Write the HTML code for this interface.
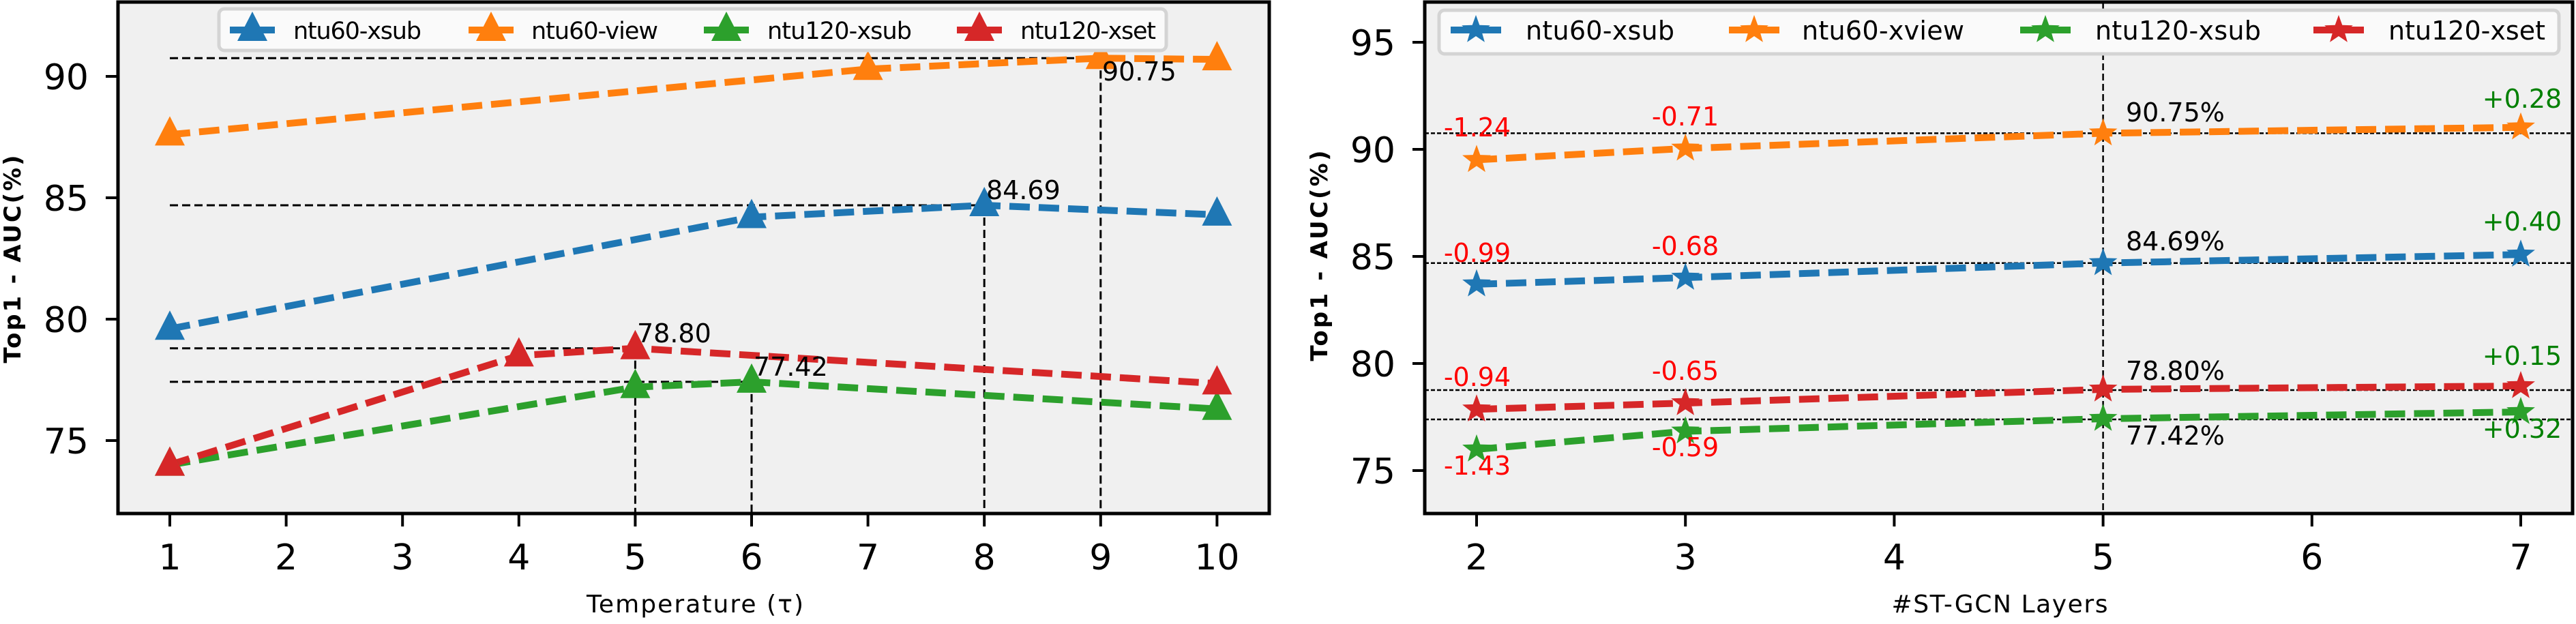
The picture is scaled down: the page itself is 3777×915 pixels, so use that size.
<!DOCTYPE html>
<html><head><meta charset="utf-8"><style>
html,body{margin:0;padding:0;background:#fff;}
svg{display:block;font-family:"DejaVu Sans","Liberation Sans",sans-serif;}
</style></head><body>
<svg width="3777" height="915" viewBox="0 0 3777 915" xmlns="http://www.w3.org/2000/svg">
<defs>
<polygon id="tri" points="0,-27 22,16 -22,16"/>
<polygon id="star" points="0,-22 5.3,-7.3 20.9,-6.8 8.6,2.8 12.9,17.8 0,9 -12.9,17.8 -8.6,2.8 -20.9,-6.8 -5.3,-7.3"/>
</defs>

<!-- LEFT PLOT -->
<rect x="173" y="3" width="1688" height="750" fill="#f0f0f0"/>
<g stroke="#000" stroke-width="3" stroke-dasharray="12,6" fill="none">
<line x1="249" y1="85.3" x2="1613.8" y2="85.3"/>
<line x1="249" y1="301" x2="1443.2" y2="301"/>
<line x1="249" y1="510.7" x2="931.4" y2="510.7"/>
<line x1="249" y1="559.9" x2="1102" y2="559.9"/>
<line x1="1613.8" y1="85.3" x2="1613.8" y2="753"/>
<line x1="1443.2" y1="301" x2="1443.2" y2="753"/>
<line x1="931.4" y1="510.7" x2="931.4" y2="753"/>
<line x1="1102" y1="559.9" x2="1102" y2="753"/>
</g>
<g fill="none" stroke-width="10" stroke-dasharray="30,13">
<polyline stroke="#ff7f0e" points="249,197.4 1272.6,101.3 1613.8,85.3 1784.4,87.1"/>
<polyline stroke="#1f77b4" points="249,482.2 1102,318.5 1443.2,301 1784.4,314.9"/>
<polyline stroke="#2ca02c" points="249,681.6 931.4,567.7 1102,559.9 1784.4,599.7"/>
<polyline stroke="#d62728" points="249,681.6 760.8,521.4 931.4,510.7 1784.4,562.4"/>
</g>
<g fill="#ff7f0e"><use href="#tri" x="249" y="197.4"/><use href="#tri" x="1272.6" y="101.3"/><use href="#tri" x="1613.8" y="85.3"/><use href="#tri" x="1784.4" y="87.1"/></g>
<g fill="#1f77b4"><use href="#tri" x="249" y="482.2"/><use href="#tri" x="1102" y="318.5"/><use href="#tri" x="1443.2" y="301"/><use href="#tri" x="1784.4" y="314.9"/></g>
<g fill="#2ca02c"><use href="#tri" x="249" y="681.6"/><use href="#tri" x="931.4" y="567.7"/><use href="#tri" x="1102" y="559.9"/><use href="#tri" x="1784.4" y="599.7"/></g>
<g fill="#d62728"><use href="#tri" x="249" y="681.6"/><use href="#tri" x="760.8" y="521.4"/><use href="#tri" x="931.4" y="510.7"/><use href="#tri" x="1784.4" y="562.4"/></g>
<g font-size="38" fill="#000">
<text x="1616" y="118">90.75</text>
<text x="1446" y="292">84.69</text>
<text x="934" y="502">78.80</text>
<text x="1105" y="551">77.42</text>
</g>
<!-- legend left -->
<rect x="321" y="13" width="1389" height="61" rx="8" fill="#fafafa" stroke="#d4d4d4" stroke-width="5"/>
<g stroke-width="10">
<line x1="337" y1="44" x2="403" y2="44" stroke="#1f77b4"/><line x1="687" y1="44" x2="753" y2="44" stroke="#ff7f0e"/>
<line x1="1032" y1="44" x2="1098" y2="44" stroke="#2ca02c"/><line x1="1403" y1="44" x2="1469" y2="44" stroke="#d62728"/>
</g>
<use href="#tri" x="370" y="44" fill="#1f77b4"/><use href="#tri" x="720" y="44" fill="#ff7f0e"/><use href="#tri" x="1065" y="44" fill="#2ca02c"/><use href="#tri" x="1436" y="44" fill="#d62728"/>
<g font-size="35" fill="#000">
<text x="430" y="57" textLength="188">ntu60-xsub</text>
<text x="779" y="57" textLength="186">ntu60-view</text>
<text x="1125" y="57" textLength="212">ntu120-xsub</text>
<text x="1496" y="57" textLength="199">ntu120-xset</text>
</g>
<rect x="173" y="3" width="1688" height="750" fill="none" stroke="#000" stroke-width="5"/>
<g stroke="#000" stroke-width="4">
<line x1="155" y1="646" x2="173" y2="646"/><line x1="155" y1="468" x2="173" y2="468"/><line x1="155" y1="290" x2="173" y2="290"/><line x1="155" y1="112" x2="173" y2="112"/>
<line x1="249" y1="753" x2="249" y2="772"/><line x1="419.6" y1="753" x2="419.6" y2="772"/><line x1="590.2" y1="753" x2="590.2" y2="772"/><line x1="760.8" y1="753" x2="760.8" y2="772"/><line x1="931.4" y1="753" x2="931.4" y2="772"/><line x1="1102" y1="753" x2="1102" y2="772"/><line x1="1272.6" y1="753" x2="1272.6" y2="772"/><line x1="1443.2" y1="753" x2="1443.2" y2="772"/><line x1="1613.8" y1="753" x2="1613.8" y2="772"/><line x1="1784.4" y1="753" x2="1784.4" y2="772"/>
</g>
<g font-size="52" fill="#000" text-anchor="end">
<text x="130" y="665">75</text><text x="130" y="487">80</text><text x="130" y="309">85</text><text x="130" y="131">90</text>
</g>
<g font-size="52" fill="#000" text-anchor="middle">
<text x="249" y="835">1</text><text x="419.6" y="835">2</text><text x="590.2" y="835">3</text><text x="760.8" y="835">4</text><text x="931.4" y="835">5</text><text x="1102" y="835">6</text><text x="1272.6" y="835">7</text><text x="1443.2" y="835">8</text><text x="1613.8" y="835">9</text><text x="1784.4" y="835">10</text>
</g>
<text x="1019" y="898" font-size="36" text-anchor="middle" textLength="318">Temperature (τ)</text>
<text transform="translate(30,380) rotate(-90)" font-size="34" font-weight="bold" text-anchor="middle" textLength="305">Top1 - AUC(%)</text>

<!-- RIGHT PLOT -->
<rect x="2089" y="3" width="1683" height="750" fill="#f0f0f0"/>
<g stroke="#000" stroke-width="2.5" stroke-dasharray="6,3" fill="none">
<line x1="2089" y1="195.4" x2="3772" y2="195.4"/>
<line x1="2089" y1="385.7" x2="3772" y2="385.7"/>
<line x1="2089" y1="572" x2="3772" y2="572"/>
<line x1="2089" y1="615" x2="3772" y2="615"/>
</g>
<line x1="3083.6" y1="3" x2="3083.6" y2="753" stroke="#000" stroke-width="2.5" stroke-dasharray="10,5"/>
<g fill="none" stroke-width="10" stroke-dasharray="30,13">
<polyline stroke="#ff7f0e" points="2165,234.4 2471.2,217.7 3083.6,195.4 3696,186.7"/>
<polyline stroke="#1f77b4" points="2165,416.8 2471.2,407.1 3083.6,385.7 3696,373.2"/>
<polyline stroke="#d62728" points="2165,600.2 2471.2,591.1 3083.6,571 3696,566"/>
<polyline stroke="#2ca02c" points="2165,658.9 2471.2,632.5 3083.6,614 3696,604"/>
</g>
<g fill="#ff7f0e"><use href="#star" x="2165" y="234.4"/><use href="#star" x="2471.2" y="217.7"/><use href="#star" x="3083.6" y="195.4"/><use href="#star" x="3696" y="186.7"/></g>
<g fill="#1f77b4"><use href="#star" x="2165" y="416.8"/><use href="#star" x="2471.2" y="407.1"/><use href="#star" x="3083.6" y="385.7"/><use href="#star" x="3696" y="373.2"/></g>
<g fill="#d62728"><use href="#star" x="2165" y="600.2"/><use href="#star" x="2471.2" y="591.1"/><use href="#star" x="3083.6" y="571"/><use href="#star" x="3696" y="566"/></g>
<g fill="#2ca02c"><use href="#star" x="2165" y="658.9"/><use href="#star" x="2471.2" y="632.5"/><use href="#star" x="3083.6" y="614"/><use href="#star" x="3696" y="604"/></g>
<g font-size="38" fill="#ff0000" text-anchor="middle">
<text x="2166" y="200">-1.24</text><text x="2471" y="184">-0.71</text>
<text x="2166" y="384">-0.99</text><text x="2471" y="374">-0.68</text>
<text x="2166" y="566">-0.94</text><text x="2471" y="557">-0.65</text>
<text x="2166" y="696">-1.43</text><text x="2471" y="669">-0.59</text>
</g>
<g font-size="38" fill="#008000" text-anchor="middle">
<text x="3698" y="158">+0.28</text><text x="3698" y="338">+0.40</text><text x="3698" y="535">+0.15</text><text x="3698" y="642">+0.32</text>
</g>
<g font-size="38" fill="#000">
<text x="3117" y="178">90.75%</text><text x="3117" y="367">84.69%</text><text x="3117" y="557">78.80%</text><text x="3117" y="652">77.42%</text>
</g>
<!-- legend right -->
<rect x="2110" y="15" width="1642" height="64" rx="8" fill="#fafafa" stroke="#d4d4d4" stroke-width="5"/>
<g stroke-width="10">
<line x1="2127" y1="44" x2="2201" y2="44" stroke="#1f77b4"/><line x1="2535" y1="44" x2="2609" y2="44" stroke="#ff7f0e"/>
<line x1="2962" y1="44" x2="3036" y2="44" stroke="#2ca02c"/><line x1="3392" y1="44" x2="3466" y2="44" stroke="#d62728"/>
</g>
<use href="#star" x="2164" y="44" fill="#1f77b4"/><use href="#star" x="2572" y="44" fill="#ff7f0e"/><use href="#star" x="2999" y="44" fill="#2ca02c"/><use href="#star" x="3429" y="44" fill="#d62728"/>
<g font-size="38" fill="#000">
<text x="2237" y="58" textLength="218">ntu60-xsub</text>
<text x="2642" y="58" textLength="238">ntu60-xview</text>
<text x="3072" y="58" textLength="243">ntu120-xsub</text>
<text x="3502" y="58" textLength="230">ntu120-xset</text>
</g>
<rect x="2089" y="3" width="1683" height="750" fill="none" stroke="#000" stroke-width="5"/>
<g stroke="#000" stroke-width="4">
<line x1="2071" y1="690" x2="2089" y2="690"/><line x1="2071" y1="533" x2="2089" y2="533"/><line x1="2071" y1="376" x2="2089" y2="376"/><line x1="2071" y1="219" x2="2089" y2="219"/><line x1="2071" y1="62" x2="2089" y2="62"/>
<line x1="2165" y1="753" x2="2165" y2="772"/><line x1="2471.2" y1="753" x2="2471.2" y2="772"/><line x1="2777.4" y1="753" x2="2777.4" y2="772"/><line x1="3083.6" y1="753" x2="3083.6" y2="772"/><line x1="3389.8" y1="753" x2="3389.8" y2="772"/><line x1="3696" y1="753" x2="3696" y2="772"/>
</g>
<g font-size="52" fill="#000" text-anchor="end">
<text x="2046" y="709">75</text><text x="2046" y="552">80</text><text x="2046" y="395">85</text><text x="2046" y="238">90</text><text x="2046" y="81">95</text>
</g>
<g font-size="52" fill="#000" text-anchor="middle">
<text x="2165" y="835">2</text><text x="2471.2" y="835">3</text><text x="2777.4" y="835">4</text><text x="3083.6" y="835">5</text><text x="3389.8" y="835">6</text><text x="3696" y="835">7</text>
</g>
<text x="2932" y="898" font-size="36" text-anchor="middle" textLength="317">#ST-GCN Layers</text>
<text transform="translate(1946,375) rotate(-90)" font-size="34" font-weight="bold" text-anchor="middle" textLength="309">Top1 - AUC(%)</text>
</svg>
</body></html>
